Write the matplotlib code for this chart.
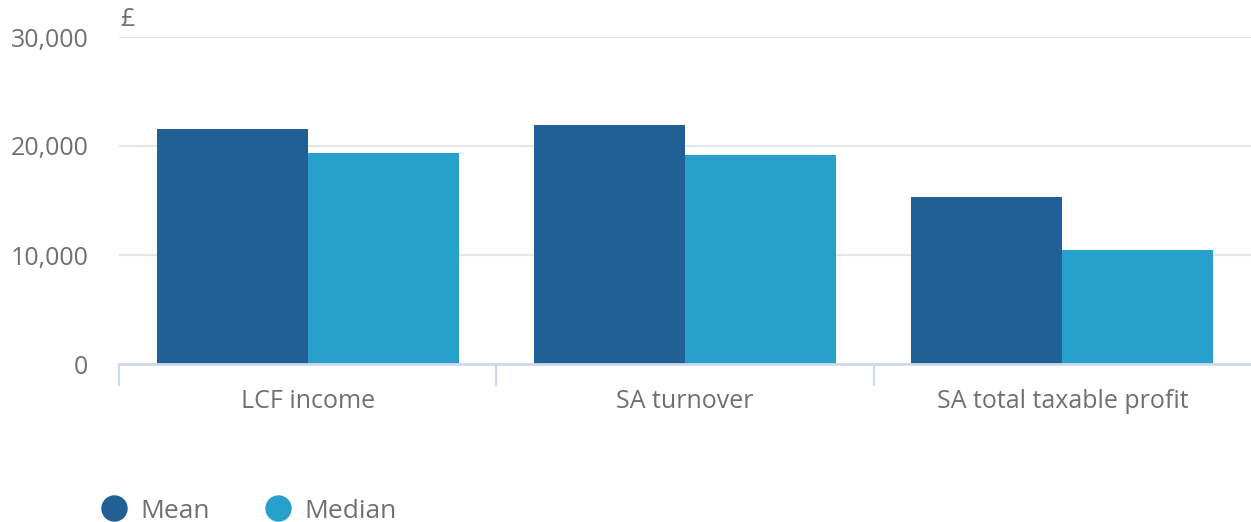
import matplotlib
matplotlib.use("Agg")
import matplotlib.pyplot as plt
from matplotlib.lines import Line2D
import numpy as np

categories = ["LCF income", "SA turnover", "SA total taxable profit"]
mean_vals = [21600, 21900, 15300]
median_vals = [19400, 19200, 10500]
y_ticks = [0, 10000, 20000, 30000]

DARK = "#206095"
LIGHT = "#27a0cc"
TEXT = "#707070"
AXIS = "#d0d9ea"
GRID = "#e6e6e6"

plt.rcParams["font.family"] = ["Open Sans", "DejaVu Sans"]

fig = plt.figure(figsize=(12.51, 5.22), dpi=100)
ax = fig.add_axes([119 / 1251, (522 - 364) / 522, 1 - 119 / 1251, (364 - 37) / 522])

x = np.arange(len(categories))
w = 0.4
ax.bar(x - w / 2, mean_vals, w, color=DARK, zorder=3)
ax.bar(x + w / 2, median_vals, w, color=LIGHT, zorder=3)

ax.set_xlim(-0.5, len(categories) - 0.5)
ax.set_ylim(0, 30000)
ax.set_yticks(y_ticks)
ax.set_yticklabels([f"{v:,}" for v in y_ticks])
ax.yaxis.grid(True, color=GRID, linewidth=1.5, zorder=0)
ax.tick_params(axis="y", length=0, pad=22, labelsize=18, labelcolor=TEXT)

# category labels centred, tick marks at group boundaries
ax.set_xticks(x)
ax.set_xticklabels(categories)
ax.tick_params(axis="x", length=0, pad=18, labelsize=18, labelcolor=TEXT)
ax.set_xticks(np.arange(-0.5, len(categories) - 1), minor=True)
ax.tick_params(axis="x", which="minor", length=16, width=1.5, color=AXIS)

for s in ["top", "right", "left"]:
    ax.spines[s].set_visible(False)
ax.spines["bottom"].set_color(AXIS)
ax.spines["bottom"].set_linewidth(2)
ax.spines["bottom"].set_zorder(4)

fig.text(120 / 1251, 1 - 20 / 522, "£", fontsize=18, color=TEXT, va="center", ha="left")

handles = [
    Line2D([], [], marker="o", linestyle="", markersize=18, color=DARK, label="Mean"),
    Line2D([], [], marker="o", linestyle="", markersize=18, color=LIGHT, label="Median"),
]
leg = fig.legend(handles=handles, loc="center left", bbox_to_anchor=(74 / 1251, 1 - 511 / 522),
                 ncol=2, frameon=False, fontsize=19, handletextpad=0.4, columnspacing=2.0,
                 handlelength=1.2)
for t in leg.get_texts():
    t.set_color(TEXT)

fig.savefig("out.png", dpi=100)
